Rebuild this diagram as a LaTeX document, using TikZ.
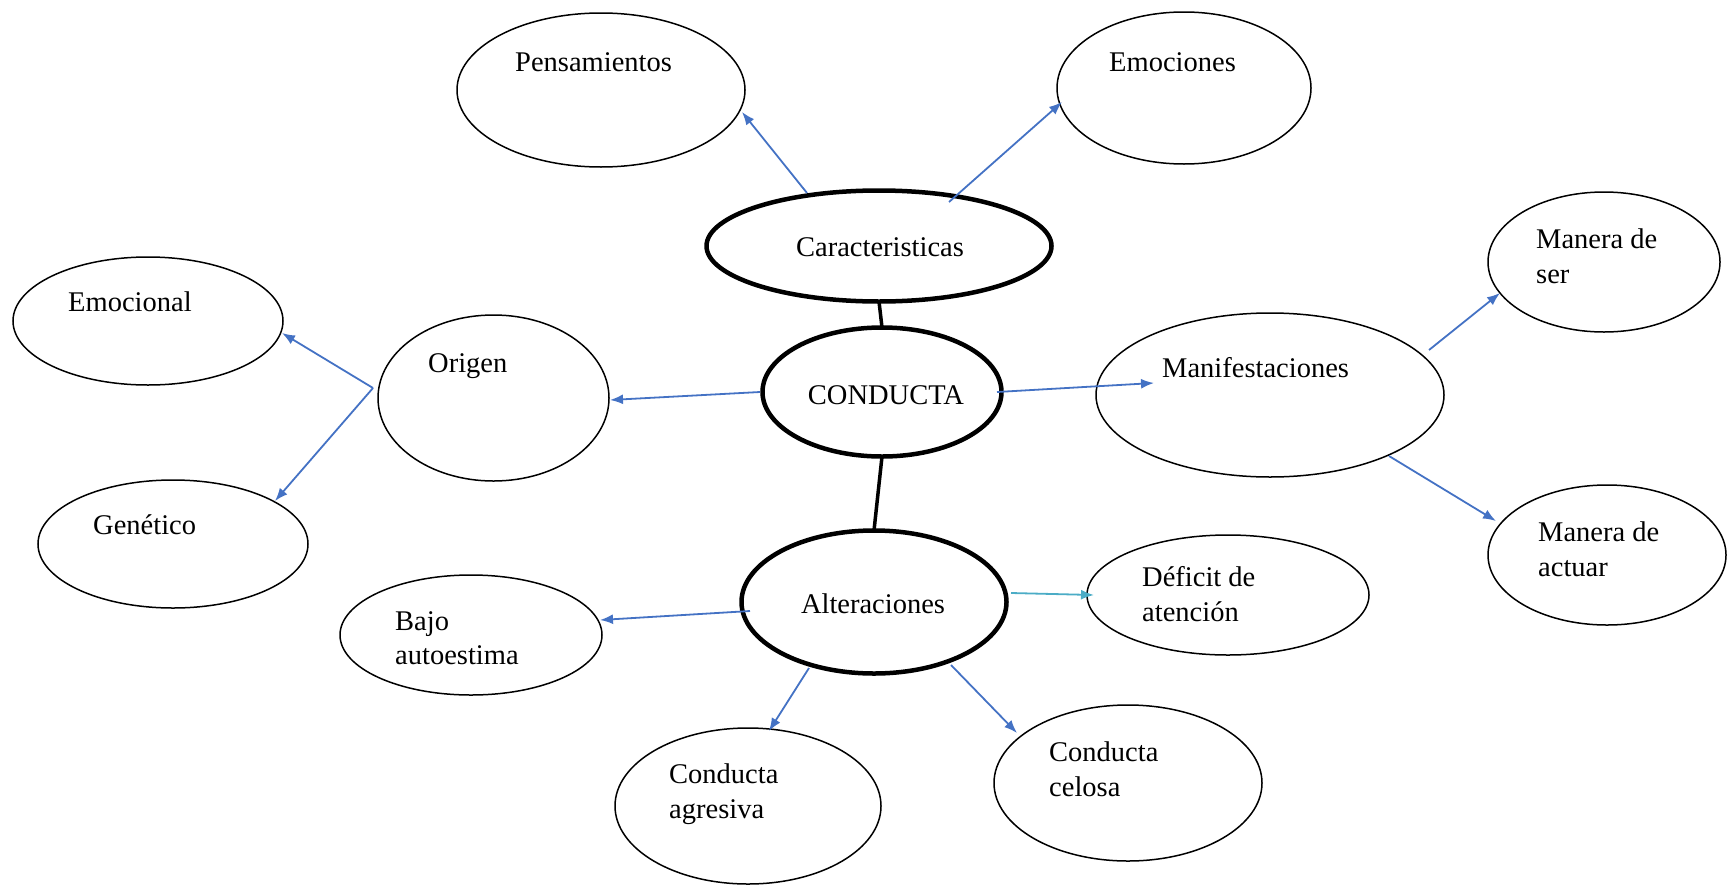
\documentclass[tikz,border=0pt]{standalone}
\usepackage{fontspec}
\setmainfont{Liberation Serif}
\usetikzlibrary{shapes.geometric,arrows.meta,calc}
\definecolor{arrblue}{HTML}{4472C4}
\definecolor{arrteal}{HTML}{4BACC6}
\tikzset{
  oval/.style={ellipse, draw=black, line width=1.5pt, inner sep=0pt, outer sep=0pt},
  boldoval/.style={oval, line width=4.5pt},
  lbl/.style={font=\fontsize{28.5}{34.5}\selectfont, inner sep=0pt, align=left, anchor=west},
  clbl/.style={lbl, anchor=center, align=center},
  arr/.style={draw=arrblue, line width=1.8pt, -{Latex[length=13pt,width=10pt]}},
  tealarr/.style={arr, draw=arrteal},
  link/.style={draw=black, line width=3.5pt},
}
\begin{document}
\begin{tikzpicture}[x=1pt,y=-1pt]
\useasboundingbox (0,0) rectangle (1728,886);

% ellipses
\node[oval, minimum width=288pt, minimum height=154pt] (pens) at (601,90) {};
\node[oval, minimum width=254pt, minimum height=152pt] (emo) at (1184,88) {};
\node[boldoval, minimum width=345pt, minimum height=111pt] (car) at (879,246) {};
\node[oval, minimum width=270pt, minimum height=128pt] (emocional) at (148,321) {};
\node[oval, minimum width=231pt, minimum height=166pt] (origen) at (493.5,398) {};
\node[boldoval, minimum width=239pt, minimum height=129pt] (cond) at (882,392) {};
\node[oval, minimum width=348pt, minimum height=164pt] (manif) at (1270,395) {};
\node[oval, minimum width=232pt, minimum height=140pt] (ser) at (1604,262) {};
\node[oval, minimum width=238pt, minimum height=140pt] (actuar) at (1607,555) {};
\node[oval, minimum width=270pt, minimum height=128pt] (genetico) at (173,544) {};
\node[boldoval, minimum width=265pt, minimum height=143pt] (alt) at (874,602) {};
\node[oval, minimum width=282pt, minimum height=120pt] (deficit) at (1228,595) {};
\node[oval, minimum width=262pt, minimum height=120pt] (bajo) at (471,635) {};
\node[oval, minimum width=266pt, minimum height=156pt] (agresiva) at (748,806) {};
\node[oval, minimum width=268pt, minimum height=156pt] (celosa) at (1128,783) {};

% texts
\node[lbl] (pens-t) at (515,62) {Pensamientos};
\node[lbl] (emo-t) at (1109,62) {Emociones};
\node[clbl] (car-t) at (880,247) {Caracteristicas};
\node[lbl] (emocional-t) at (68,302) {Emocional};
\node[lbl] (origen-t) at (428,366) {Origen};
\node[clbl] (cond-t) at (886,395) {CONDUCTA};
\node[lbl] (manif-t) at (1162,368) {Manifestaciones};
\node[lbl] (ser-t) at (1536,256) {Manera de\\ser};
\node[lbl] (actuar-t) at (1538,549) {Manera de\\actuar};
\node[lbl] (genetico-t) at (93,525) {Genético};
\node[clbl] (alt-t) at (873,604) {Alteraciones};
\node[lbl] (deficit-t) at (1142,594) {Déficit de\\atención};
\node[lbl] (bajo-t) at (395,638) {Bajo\\autoestima};
\node[lbl] (agresiva-t) at (669,794) {Conducta\\agresiva};
\node[lbl] (celosa-t) at (1049,769) {Conducta\\celosa};

% black links
\draw[link] (car.south) -- (cond.north);
\draw[link] (cond.south) -- (alt.north);

% arrows
\draw[arr] ($(car.center)+(-72,-53)$) -- ($(pens.center)+(141,22)$);
\draw[arr] ($(car.center)+(70,-44)$) -- ($(emo.center)+(-122,14)$);
\draw[arr] ($(cond.center)+(-122,0)$) -- ($(origen.center)+(116.5,2)$);
\draw[arr] ($(cond.center)+(115,0)$) -- ($(manif.center)+(-116,-12)$);
\coordinate (ofork) at ($(origen.center)+(-120.5,-10)$);
\draw[arr] (ofork) -- ($(emocional.center)+(134,12)$);
\draw[arr] (ofork) -- ($(genetico.center)+(102,-43)$);
\draw[arr] ($(manif.center)+(159,-45)$) -- ($(ser.center)+(-104,31)$);
\draw[arr] ($(manif.center)+(119,61)$) -- ($(actuar.center)+(-111,-34)$);
\draw[arr] ($(alt.center)+(-124,9)$) -- ($(bajo.center)+(129,-15)$);
\draw[tealarr] ($(alt.center)+(137,-9)$) -- ($(deficit.center)+(-134,0)$);
\draw[arr] ($(alt.center)+(-65,66)$) -- ($(agresiva.center)+(21,-75)$);
\draw[arr] ($(alt.center)+(77,63)$) -- ($(celosa.center)+(-111,-50)$);
\end{tikzpicture}
\end{document}
